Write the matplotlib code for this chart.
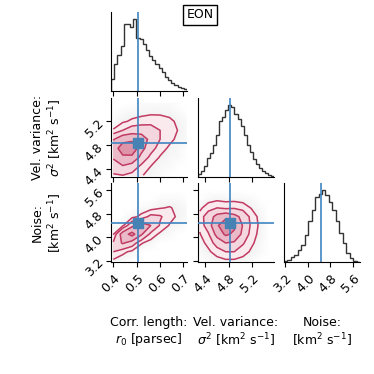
import numpy as np
import matplotlib
matplotlib.use("Agg")
import matplotlib.pyplot as plt
from matplotlib.colors import LinearSegmentedColormap

plt.rcParams.update({
    "font.size": 9,
    "font.family": "DejaVu Sans",
    "axes.linewidth": 0.8,
    "xtick.major.size": 3.5,
    "ytick.major.size": 3.5,
    "xtick.major.width": 0.8,
    "ytick.major.width": 0.8,
})

# parameter ranges / truth values
r0_lim = (0.39, 0.715)
s2_lim = (4.27, 5.59)
nz_lim = (3.15, 5.85)
truth = [0.505, 4.83, 4.48]

# 1D marginal histograms (relative counts)
r0_hist = [0.17, 0.38, 0.50, 0.62, 0.93, 0.93, 0.89, 1.00, 0.74, 0.72, 0.65, 0.57,
           0.49, 0.43, 0.38, 0.32, 0.26, 0.19, 0.15, 0.11, 0.08, 0.05, 0.04, 0.03]
s2_hist = [0.04, 0.08, 0.16, 0.27, 0.33, 0.45, 0.59, 0.78, 0.83, 0.93, 1.00, 0.97,
           0.88, 0.81, 0.71, 0.59, 0.45, 0.35, 0.25, 0.18, 0.13, 0.08, 0.05, 0.03, 0.01]
nz_hist = [0.01, 0.03, 0.07, 0.10, 0.17, 0.24, 0.38, 0.57, 0.73, 0.90, 0.95, 1.00,
           0.93, 0.84, 0.72, 0.57, 0.41, 0.27, 0.13, 0.05, 0.01, 0.0]

# 2D density grids (rows = y value, cols = x value)
r0_grid = [0.40, 0.44, 0.48, 0.52, 0.56, 0.60, 0.64, 0.68, 0.72]
s2_grid = [4.30, 4.45, 4.60, 4.75, 4.90, 5.05, 5.20, 5.35, 5.50]
nz_grid = [3.2, 3.5, 3.8, 4.1, 4.4, 4.7, 5.0, 5.3, 5.6, 5.9]

dens_r0_s2 = [
    [0.18, 0.20, 0.15, 0.08, 0.03, 0.01, 0.00, 0.00, 0.00],
    [0.30, 0.40, 0.32, 0.16, 0.07, 0.02, 0.01, 0.00, 0.00],
    [0.45, 0.65, 0.62, 0.35, 0.15, 0.06, 0.02, 0.01, 0.00],
    [0.55, 0.85, 0.95, 0.50, 0.28, 0.12, 0.05, 0.02, 0.00],
    [0.40, 0.60, 0.62, 0.55, 0.35, 0.20, 0.10, 0.04, 0.01],
    [0.08, 0.20, 0.30, 0.32, 0.28, 0.20, 0.13, 0.06, 0.01],
    [0.01, 0.05, 0.09, 0.12, 0.15, 0.14, 0.10, 0.04, 0.01],
    [0.00, 0.01, 0.02, 0.03, 0.04, 0.04, 0.03, 0.01, 0.00],
    [0.00, 0.00, 0.00, 0.01, 0.01, 0.01, 0.01, 0.00, 0.00],
]
dens_r0_nz = [
    [0.05, 0.01, 0.00, 0.00, 0.00, 0.00, 0.00, 0.00, 0.00],
    [0.20, 0.10, 0.04, 0.00, 0.00, 0.00, 0.00, 0.00, 0.00],
    [0.22, 0.45, 0.30, 0.08, 0.02, 0.00, 0.00, 0.00, 0.00],
    [0.06, 0.55, 0.80, 0.45, 0.15, 0.04, 0.01, 0.00, 0.00],
    [0.01, 0.04, 0.35, 0.55, 0.42, 0.18, 0.06, 0.02, 0.00],
    [0.00, 0.00, 0.03, 0.10, 0.25, 0.22, 0.12, 0.04, 0.01],
    [0.00, 0.00, 0.00, 0.01, 0.02, 0.06, 0.08, 0.04, 0.01],
    [0.00, 0.00, 0.00, 0.00, 0.00, 0.01, 0.01, 0.01, 0.00],
    [0.00, 0.00, 0.00, 0.00, 0.00, 0.00, 0.00, 0.00, 0.00],
    [0.00, 0.00, 0.00, 0.00, 0.00, 0.00, 0.00, 0.00, 0.00],
]
dens_s2_nz = [
    [0.00, 0.01, 0.03, 0.05, 0.05, 0.03, 0.01, 0.00, 0.00],
    [0.01, 0.05, 0.12, 0.20, 0.20, 0.12, 0.05, 0.01, 0.00],
    [0.03, 0.10, 0.28, 0.42, 0.38, 0.22, 0.09, 0.02, 0.00],
    [0.06, 0.18, 0.50, 0.75, 0.65, 0.35, 0.13, 0.03, 0.00],
    [0.10, 0.30, 0.65, 0.95, 0.75, 0.40, 0.16, 0.04, 0.00],
    [0.12, 0.30, 0.50, 0.60, 0.50, 0.35, 0.14, 0.03, 0.00],
    [0.04, 0.14, 0.20, 0.16, 0.18, 0.14, 0.06, 0.01, 0.00],
    [0.00, 0.02, 0.04, 0.03, 0.03, 0.02, 0.01, 0.00, 0.00],
    [0.00, 0.00, 0.00, 0.00, 0.00, 0.00, 0.00, 0.00, 0.00],
    [0.00, 0.00, 0.00, 0.00, 0.00, 0.00, 0.00, 0.00, 0.00],
]

levels = [0.07, 0.2, 0.42, 0.7]
col = "#c23b62"
blue = "#3f84c0"
fill_cmap = LinearSegmentedColormap.from_list("pinks", ["#fcf0f3", "#d77f99"])
gray_cmap = LinearSegmentedColormap.from_list("grays", ["#ffffff", "#ebebeb"])

fig = plt.figure(figsize=(3.74, 3.74), dpi=100)
W, H = 374.0, 374.0
cols_x = [111, 198, 284]
rows_y = [12, 98, 183]
aw, ah = 76, 79


def make_ax(r, c):
    return fig.add_axes([cols_x[c] / W, 1 - (rows_y[r] + ah) / H, aw / W, ah / H])


def style(ax):
    for s in ["top", "right"]:
        ax.spines[s].set_visible(False)


def hist(ax, counts, lim, t):
    edges = np.linspace(lim[0], lim[1], len(counts) + 1)
    ax.stairs(counts, edges, color="#333333", lw=1.0)
    ax.axvline(t, color=blue, lw=1.2)
    ax.set_xlim(lim)
    ax.set_ylim(0, 1.1)
    ax.set_yticks([])
    style(ax)


def pair(ax, xg, yg, dens, xlim, ylim, tx, ty):
    X, Y = np.meshgrid(xg, yg)
    Z = np.array(dens)
    ax.pcolormesh(X, Y, np.sqrt(Z), cmap=gray_cmap, shading="gouraud", vmin=0, vmax=0.4, zorder=0)
    ax.contourf(X, Y, Z, levels=levels + [1.1], cmap=fill_cmap, zorder=1)
    ax.contour(X, Y, Z, levels=levels, colors=col, linewidths=1.1, zorder=2)
    ax.axvline(tx, color=blue, lw=1.2, zorder=3)
    ax.axhline(ty, color=blue, lw=1.2, zorder=3)
    ax.plot(tx, ty, "s", color="#4682b4", ms=6.5, zorder=4)
    ax.set_xlim(xlim)
    ax.set_ylim(ylim)
    style(ax)


r0_ticks = [0.4, 0.5, 0.6, 0.7]
s2_ticks = [4.4, 4.8, 5.2]
nz_ticks = [3.2, 4.0, 4.8, 5.6]

# diagonal
a00 = make_ax(0, 0)
hist(a00, r0_hist, r0_lim, truth[0])
a00.set_xticks(r0_ticks)
a00.set_xticklabels([])

a11 = make_ax(1, 1)
hist(a11, s2_hist, s2_lim, truth[1])
a11.set_xticks(s2_ticks)
a11.set_xticklabels([])

a22 = make_ax(2, 2)
hist(a22, nz_hist, nz_lim, truth[2])
a22.set_xticks(nz_ticks)
a22.set_xticklabels(nz_ticks, rotation=45, ha="right", rotation_mode="anchor")

# off diagonal
a10 = make_ax(1, 0)
pair(a10, r0_grid, s2_grid, dens_r0_s2, r0_lim, s2_lim, truth[0], truth[1])
a10.set_xticks(r0_ticks)
a10.set_xticklabels([])
a10.set_yticks(s2_ticks)
a10.set_yticklabels(s2_ticks, rotation=45, ha="right", va="center", rotation_mode="anchor")

a20 = make_ax(2, 0)
pair(a20, r0_grid, nz_grid, dens_r0_nz, r0_lim, nz_lim, truth[0], truth[2])
a20.set_xticks(r0_ticks)
a20.set_xticklabels(r0_ticks, rotation=45, ha="right", rotation_mode="anchor")
a20.set_yticks(nz_ticks)
a20.set_yticklabels(nz_ticks, rotation=45, ha="right", va="center", rotation_mode="anchor")

a21 = make_ax(2, 1)
pair(a21, s2_grid, nz_grid, dens_s2_nz, s2_lim, nz_lim, truth[1], truth[2])
a21.set_xticks(s2_ticks)
a21.set_xticklabels(s2_ticks, rotation=45, ha="right", rotation_mode="anchor")
a21.set_yticks(nz_ticks)
a21.set_yticklabels([])

# axis labels
a20.set_xlabel("Corr. length:\n$r_0$ [parsec]")
a21.set_xlabel("Vel. variance:\n$\\sigma^2$ [km$^2$ s$^{-1}$]")
a22.set_xlabel("Noise:\n[km$^2$ s$^{-1}$]")
for ax in (a20, a21, a22):
    ax.xaxis.set_label_coords(0.5, -0.68)

a10.set_ylabel("Vel. variance:\n$\\sigma^2$ [km$^2$ s$^{-1}$]")
a20.set_ylabel("Noise:\n[km$^2$ s$^{-1}$]")
for ax in (a10, a20):
    ax.yaxis.set_label_coords(-0.62, 0.5)

fig.text(200 / W, 1 - 15 / H, "EON", ha="center", va="center", fontsize=9,
         bbox=dict(boxstyle="square,pad=0.25", fc="white", ec="black", lw=1.0))

fig.savefig("out.png", dpi=100)
